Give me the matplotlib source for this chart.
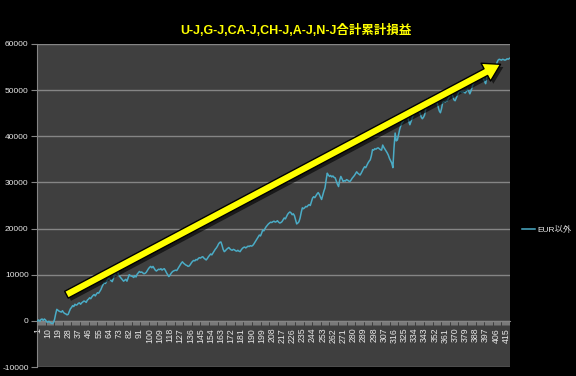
import matplotlib
matplotlib.use("Agg")
import matplotlib.pyplot as plt
from matplotlib.patches import FancyArrowPatch
import matplotlib.patheffects as pe
import numpy as np

title = "U-J,G-J,CA-J,CH-J,A-J,N-J合計累計損益"
series_name = "EUR以外"

values = [
    0, 200, -100, 300, 400, 100, 400, 200, -200, -300, -100, -300, -500, -600, -400, 300, 1500, 2500, 2300, 2100,
    2000, 1900, 2200, 1800, 1600, 1500, 1300, 1400, 2000, 2600, 2900, 3300, 3100, 3600, 3400, 3500, 3800, 3900, 3600, 3900,
    4100, 4300, 4200, 4000, 4500, 4700, 5000, 4800, 5200, 5500, 5700, 5400, 5800, 6100, 6000, 6400, 6800, 7400, 7900, 8300,
    8100, 8600, 8900, 9300, 9000, 8700, 8500, 9200, 9900, 10500, 11100, 10400, 9800, 9500, 9200, 8900, 8600, 8800, 9000, 8600,
    9300, 10000, 9800, 9700, 9600, 9400, 9800, 9500, 10100, 10400, 10700, 10500, 10600, 10400, 10200, 10300, 10500, 10900, 11300, 11600,
    11800, 11500, 11800, 11400, 11000, 10800, 11000, 11200, 11100, 11300, 11000, 11200, 11300, 10900, 10400, 10000, 9600, 9900, 10300, 10600,
    10800, 10900, 11000, 10900, 11300, 11700, 12100, 12500, 12800, 12500, 12300, 12100, 12000, 11800, 11900, 12200, 12600, 12900, 13100, 13000,
    13300, 13200, 13500, 13700, 13600, 13800, 13900, 13600, 13400, 13200, 13500, 13900, 14200, 14500, 14300, 14700, 15100, 15500, 15800, 16200,
    16700, 17000, 17100, 16400, 15500, 15000, 15200, 15500, 15700, 15900, 15600, 15400, 15300, 15500, 15400, 15200, 15100, 15300, 15100, 15000,
    15400, 15700, 15900, 16000, 15800, 16000, 16200, 16100, 16300, 16200, 16300, 16600, 17000, 17400, 17800, 18200, 18600, 18400, 19000, 19700,
    19500, 20000, 20400, 20700, 21000, 21200, 21400, 21300, 21500, 21600, 21400, 21500, 21700, 21400, 21200, 21300, 21500, 21900, 22300, 22100,
    22600, 23100, 23400, 23600, 23400, 23000, 23200, 22800, 21900, 21000, 21200, 21500, 22300, 23500, 24500, 24300, 24500, 24800, 24700, 25000,
    25200, 25000, 25800, 26600, 26900, 26700, 27100, 27500, 27800, 27400, 26800, 26300, 27200, 28100, 28800, 30500, 32000, 31600, 31300, 31500,
    31200, 31400, 31100, 31000, 30300, 29600, 29100, 30500, 31300, 30800, 30200, 30400, 30300, 30600, 30500, 30300, 30200, 30500, 30900, 31200,
    31500, 31900, 32300, 32000, 31800, 31600, 32000, 32500, 33000, 33400, 33200, 33700, 34200, 34600, 34900, 35800, 37100, 37000, 37300, 37200,
    37400, 37500, 37300, 37100, 37000, 38100, 37600, 37200, 36800, 36400, 35900, 35200, 34700, 34200, 33200, 37500, 40700, 39000, 39200, 40300,
    41500, 42300, 42900, 43200, 43800, 44100, 44600, 44200, 43300, 42500, 43200, 43900, 44600, 45300, 46000, 46600, 46000, 45400, 45000, 44200,
    43800, 44100, 44600, 45900, 47200, 48100, 47700, 47400, 47100, 46900, 47200, 47400, 47300, 47300, 46400, 45500, 45100, 46000, 47300, 47500,
    47400, 47600, 47700, 48200, 48600, 49000, 49400, 48600, 47900, 47700, 48300, 48900, 49400, 49900, 49700, 49500, 49700, 49500, 49400, 49800,
    50200, 49800, 49200, 49800, 50600, 51400, 51700, 52100, 52300, 52500, 52300, 52600, 52800, 52900, 52500, 51900, 51400, 52800, 53600, 53400,
    53500, 53700, 53600, 53900, 54200, 55200, 56000, 56500, 56700, 56600, 56500, 56700, 56600, 56500, 56600, 56800, 56700, 56900,
]
categories = list(range(1, len(values) + 1))
xtick_labels = [str(c) for c in categories if (c - 1) % 9 == 0]
yticks = [-10000, 0, 10000, 20000, 30000, 40000, 50000, 60000]

W, H = 576, 376
fig = plt.figure(figsize=(W / 100, H / 100), dpi=100, facecolor="black")
ax = fig.add_axes([37 / W, 1 - 367 / H, (510 - 37) / W, (367 - 44) / H])
ax.set_facecolor("#3f3f3f")

ax.plot(categories, values, color="#4bacc6", lw=1.1, label=series_name, zorder=3)

ax.set_xlim(0.5, len(values) + 0.5)
ax.set_ylim(-10000, 60000)
ax.set_yticks(yticks)
ax.set_yticklabels([str(v) for v in yticks], fontsize=6, color="#e6e6e6",
                   family="Liberation Sans")
ax.grid(axis="y", color="#858585", lw=1.0)
ax.set_axisbelow(True)

for s in ["top", "right"]:
    ax.spines[s].set_visible(False)
ax.spines["left"].set_color("#858585")
ax.spines["bottom"].set_color("#858585")
ax.spines["bottom"].set_position(("data", 0))
ax.tick_params(axis="y", colors="#858585", length=4, width=0.8, labelcolor="#e6e6e6", pad=2)

major_pos = [c for c in categories if (c - 1) % 9 == 0]
ax.set_xticks(major_pos)
ax.set_xticklabels(xtick_labels, rotation=90, fontsize=6.3, color="#e6e6e6",
                   family="Liberation Sans", va="top", ha="center")
ax.set_xticks(categories, minor=True)
ax.tick_params(axis="x", which="both", colors="#858585", length=3, width=0.6,
               labelcolor="#e6e6e6", pad=2)

# title
fig.text(296 / W, 1 - 30 / H, title, color="#ffff00", fontsize=9, fontweight="bold",
         ha="center", va="center", family=["Liberation Sans", "Noto Sans CJK JP"])

# legend
leg = fig.legend(loc="center left", bbox_to_anchor=(514 / W, 1 - 230 / H), frameon=False,
                 handlelength=1.6, handletextpad=0.3,
                 prop={"family": ["Liberation Sans", "Noto Sans CJK JP"], "size": 6})
for t in leg.get_texts():
    t.set_color("#e6e6e6")

# yellow arrow (annotation drawn in figure coordinates)
start = (64 / W, 1 - 296 / H)
end = (503 / W, 1 - 63 / H)
arrow = FancyArrowPatch(start, end, transform=fig.transFigure,
                        arrowstyle="simple,head_width=1.45,head_length=1.2,tail_width=0.55",
                        mutation_scale=10, facecolor="#ffff00", edgecolor="black", lw=1.0,
                        joinstyle="round", capstyle="round", zorder=10,
                        path_effects=[pe.SimplePatchShadow(offset=(2, -2), shadow_rgbFace="black", alpha=0.6),
                                      pe.Normal()])
fig.add_artist(arrow)

fig.savefig("out.png", dpi=100, facecolor="black")
